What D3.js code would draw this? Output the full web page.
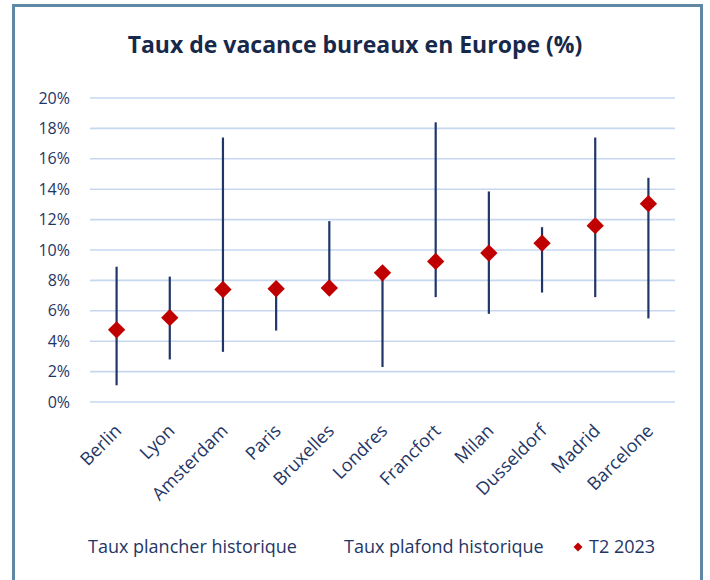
<!DOCTYPE html>
<html>
<head>
<meta charset="utf-8">
<script src="https://cdn.jsdelivr.net/npm/d3@7"></script>
<style>
  body { margin: 0; background: #fff; }
  svg { display: block; font-family: "Open Sans", sans-serif; }
</style>
</head>
<body>
<div id="chart"></div>
<script>
// data
var cities = ["Berlin", "Lyon", "Amsterdam", "Paris", "Bruxelles", "Londres",
  "Francfort", "Milan", "Dusseldorf", "Madrid", "Barcelone"];
var plancher = [1.1, 2.8, 3.3, 4.7, 7.4, 2.3, 6.9, 5.8, 7.2, 6.9, 5.5];
var plafond = [8.9, 8.25, 17.4, 7.6, 11.9, 8.5, 18.4, 13.85, 11.5, 17.4, 14.75];
var t2023 = [4.75, 5.55, 7.4, 7.45, 7.5, 8.5, 9.25, 9.8, 10.45, 11.6, 13.05];
var yTicks = [0, 2, 4, 6, 8, 10, 12, 14, 16, 18, 20];
var legendLabels = ["Taux plancher historique", "Taux plafond historique", "T2 2023"];

var svgWidth = 710;
var svgHeight = 580;
var margin = { top: 98, right: 35, bottom: 178, left: 90 };
var width = svgWidth - margin.left - margin.right;
var height = svgHeight - margin.top - margin.bottom;

var navy = "#1f3666";

var svg = d3.select("#chart")
  .append("svg")
  .attr("width", svgWidth)
  .attr("height", svgHeight);

// frame
svg.append("rect")
  .attr("x", 13.5)
  .attr("y", 5.5)
  .attr("width", 688)
  .attr("height", 590)
  .attr("fill", "none")
  .attr("stroke", "#5f87a6")
  .attr("stroke-width", 3);

svg.append("text")
  .attr("x", 355)
  .attr("y", 53)
  .attr("text-anchor", "middle")
  .attr("font-size", "23px")
  .attr("font-weight", "bold")
  .attr("fill", "#17294a")
  .text("Taux de vacance bureaux en Europe (%)");

var chartGroup = svg.append("g")
  .attr("transform", `translate(${margin.left}, ${margin.top})`);

var xBand = d3.scaleBand()
  .domain(cities)
  .range([0, width]);

var yLinearScale = d3.scaleLinear()
  .domain([0, 20])
  .range([height, 0]);

// gridlines
chartGroup.append("g")
  .selectAll("line")
  .data(yTicks)
  .enter()
  .append("line")
  .attr("x1", 0)
  .attr("x2", width)
  .attr("y1", d => yLinearScale(d))
  .attr("y2", d => yLinearScale(d))
  .attr("stroke", "#c6d8ef")
  .attr("stroke-width", 1.6);

var leftAxis = d3.axisLeft(yLinearScale)
  .tickValues(yTicks)
  .tickFormat(d => d + "%")
  .tickSize(0)
  .tickPadding(20);

var yAxis = chartGroup.append("g")
  .call(leftAxis);
yAxis.select(".domain").remove();
yAxis.selectAll("text")
  .attr("font-size", "16px")
  .attr("font-family", "Open Sans, sans-serif")
  .attr("fill", navy);

var cx = d => xBand(d) + xBand.bandwidth() / 2;

// x labels
chartGroup.append("g")
  .selectAll("text")
  .data(cities)
  .enter()
  .append("text")
  .attr("transform", d => `translate(${cx(d) + 6}, ${height + 30}) rotate(-45)`)
  .attr("text-anchor", "end")
  .attr("font-size", "18px")
  .attr("fill", navy)
  .text(d => d);

// range lines
chartGroup.append("g")
  .selectAll("line")
  .data(cities)
  .enter()
  .append("line")
  .attr("x1", d => cx(d))
  .attr("x2", d => cx(d))
  .attr("y1", (d, i) => yLinearScale(plancher[i]))
  .attr("y2", (d, i) => yLinearScale(plafond[i]))
  .attr("stroke", navy)
  .attr("stroke-width", 2.2);

// T2 2023 diamonds
var diamond = d3.symbol().type(d3.symbolSquare).size(150);
chartGroup.append("g")
  .selectAll("path")
  .data(cities)
  .enter()
  .append("path")
  .attr("d", diamond)
  .attr("transform", (d, i) => `translate(${cx(d)}, ${yLinearScale(t2023[i])}) rotate(45)`)
  .attr("fill", "#c00000");

// legend
var legend = svg.append("g");
legend.append("text")
  .attr("x", 88)
  .attr("y", 553)
  .attr("font-size", "18px")
  .attr("fill", navy)
  .text(legendLabels[0]);
legend.append("text")
  .attr("x", 344)
  .attr("y", 553)
  .attr("font-size", "18px")
  .attr("fill", navy)
  .text(legendLabels[1]);
legend.append("path")
  .attr("d", d3.symbol().type(d3.symbolSquare).size(40))
  .attr("transform", "translate(578, 547) rotate(45)")
  .attr("fill", "#c00000");
legend.append("text")
  .attr("x", 589)
  .attr("y", 553)
  .attr("font-size", "18px")
  .attr("fill", navy)
  .text(legendLabels[2]);
</script>
</body>
</html>
